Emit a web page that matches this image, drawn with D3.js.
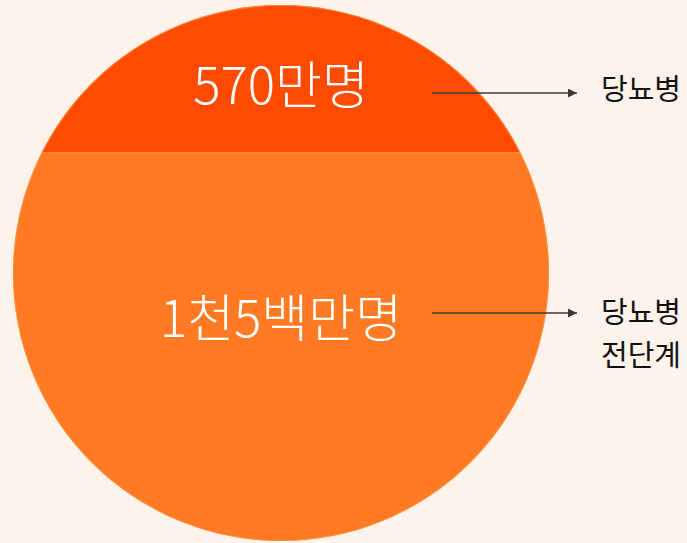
<!DOCTYPE html>
<html lang="ko">
<head>
<meta charset="UTF-8">
<title>당뇨병 인구</title>
<script src="https://d3js.org/d3.v7.min.js"></script>
<style>
  html, body { margin: 0; padding: 0; background: #fdf3ea; }
  svg { display: block; font-family: "Noto Sans CJK KR", "Noto Sans", sans-serif; }
</style>
</head>
<body>
<div id="chart"></div>
<script>
  // data (만명)
  const groups = ["당뇨병", "당뇨병 전단계"];
  const values = [570, 1500];
  const valueLabels = ["570만명", "1천5백만명"];
  const groupLabels = [["당뇨병"], ["당뇨병", "전단계"]];
  const colors = ["#ff4b00", "#ff7a22"];

  const width = 687, height = 543;
  const cx = 281, cy = 273, r = 268;

  const svg = d3.select("#chart").append("svg")
    .attr("width", width).attr("height", height);

  svg.append("defs").append("marker")
    .attr("id", "arrow").attr("viewBox", "0 0 10 10")
    .attr("refX", 10).attr("refY", 5)
    .attr("markerWidth", 9).attr("markerHeight", 9)
    .attr("markerUnits", "userSpaceOnUse")
    .attr("orient", "auto")
    .append("path").attr("d", "M0,0L10,5L0,10Z").attr("fill", "#3a3a3a");

  svg.select("defs").append("clipPath").attr("id", "circ")
    .append("circle").attr("cx", cx).attr("cy", cy).attr("r", r);

  // stack values top to bottom, height proportional to value
  const total = d3.sum(values);
  const y = d3.scaleLinear().domain([0, total]).range([cy - r, cy + r]);
  let acc = 0;
  const segs = values.map((v, i) => {
    const s = { i: i, y0: y(acc), y1: y(acc + v) };
    acc += v;
    return s;
  });

  const g = svg.append("g").attr("clip-path", "url(#circ)");
  g.selectAll("rect").data(segs).enter().append("rect")
    .attr("x", cx - r).attr("width", 2 * r)
    .attr("y", d => d.y0).attr("height", d => d.y1 - d.y0)
    .attr("fill", d => colors[d.i]);

  svg.append("circle").attr("cx", cx).attr("cy", cy).attr("r", r - 0.5)
    .attr("fill", "none").attr("stroke", "#ff9440").attr("stroke-width", 1.2).attr("opacity", 0.7);

  const textY = [82, 315];
  const arrowY = [93, 313];
  const labelY = [87, 310];

  segs.forEach((d, i) => {
    svg.append("text")
      .attr("x", cx).attr("y", textY[i])
      .attr("text-anchor", "middle").attr("dominant-baseline", "central")
      .attr("fill", "#fff").attr("font-size", 51).attr("font-weight", 300)
      .text(valueLabels[i]);

    svg.append("line")
      .attr("x1", 432).attr("x2", 577)
      .attr("y1", arrowY[i]).attr("y2", arrowY[i])
      .attr("stroke", "#3a3a3a").attr("stroke-width", 1.3)
      .attr("marker-end", "url(#arrow)");

    const t = svg.append("text")
      .attr("x", 601).attr("y", labelY[i])
      .attr("fill", "#111").attr("font-size", 29)
      .attr("dominant-baseline", "central");
    groupLabels[i].forEach((s, k) => {
      t.append("tspan").attr("x", 601).attr("dy", k === 0 ? 0 : 43).text(s);
    });
  });
</script>
</body>
</html>
